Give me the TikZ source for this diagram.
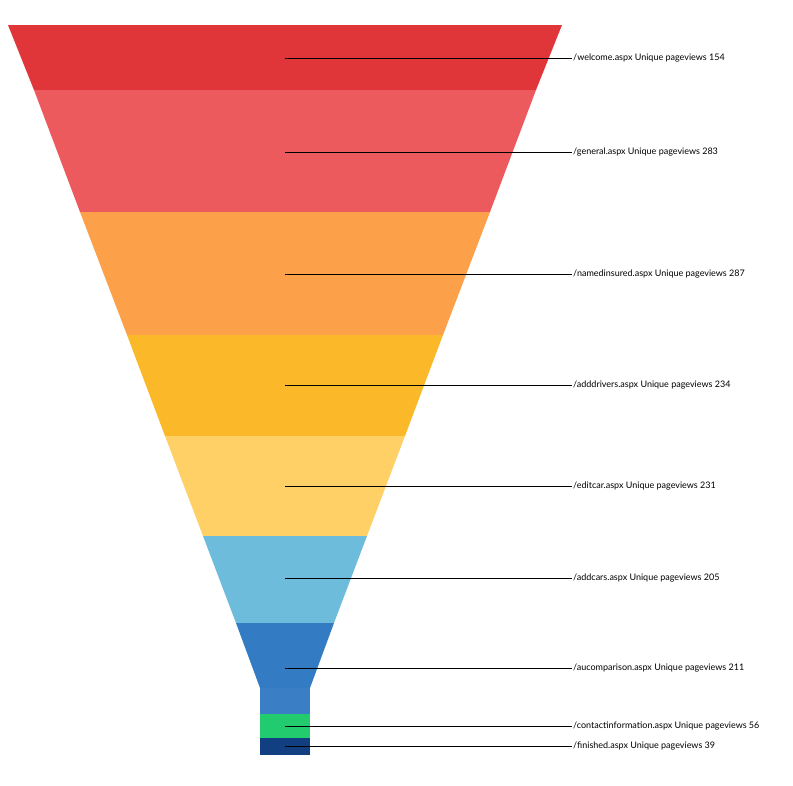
\documentclass[tikz,border=0pt]{standalone}
\usepackage{fontspec}
\setmainfont{Lato}
\definecolor{layA}{HTML}{E0363A}
\definecolor{layB}{HTML}{EC5A5E}
\definecolor{layC}{HTML}{FCA04A}
\definecolor{layD}{HTML}{FBB829}
\definecolor{layE}{HTML}{FFD066}
\definecolor{layF}{HTML}{6DBCDC}
\definecolor{layG}{HTML}{337CC4}
\definecolor{layH}{HTML}{3A7EC6}
\definecolor{layI}{HTML}{22CC6E}
\definecolor{layJ}{HTML}{123F82}
\tikzset{lbl/.style={right,inner sep=1pt,font=\fontsize{9}{10}\selectfont}}
\begin{document}
\begin{tikzpicture}[x=1pt,y=-1pt]
        \useasboundingbox (0,0) rectangle (793,785);
        \fill[layA] (8,25) -- (562,25) -- (536,90) -- (34,90) -- cycle;
        \fill[layB] (34,90) -- (536,90) -- (490,212) -- (80,212) -- cycle;
        \fill[layC] (80,212) -- (490,212) -- (443,335) -- (127,335) -- cycle;
        \fill[layD] (127,335) -- (443,335) -- (405,436) -- (165,436) -- cycle;
        \fill[layE] (165,436) -- (405,436) -- (367,536) -- (203,536) -- cycle;
        \fill[layF] (203,536) -- (367,536) -- (334,623) -- (236,623) -- cycle;
        \fill[layG] (236,623) -- (334,623) -- (310,688) -- (260,688) -- cycle;
        \fill[layH] (260,688) rectangle (310,714);
        \fill[layI] (260,714) rectangle (310,738);
        \fill[layJ] (260,738) rectangle (310,755);
        \foreach \y/\name/\txt in {58/a/welcome.aspx Unique pageviews 154,
                152/b/general.aspx Unique pageviews 283,
                274/c/namedinsured.aspx Unique pageviews 287,
                385/d/adddrivers.aspx Unique pageviews 234,
                486/e/editcar.aspx Unique pageviews 231,
                578/f/addcars.aspx Unique pageviews 205,
                668/g/aucomparison.aspx Unique pageviews 211,
                726/h/contactinformation.aspx Unique pageviews 56,
                746/i/finished.aspx Unique pageviews 39}{
            \coordinate (p\name) at (285,\y);
            \node[lbl] (t\name) at (572,\y) {/\txt};
            \draw[black,line width=0.8pt] (p\name) -- (t\name.west);
        }
    \end{tikzpicture}
\end{document}
